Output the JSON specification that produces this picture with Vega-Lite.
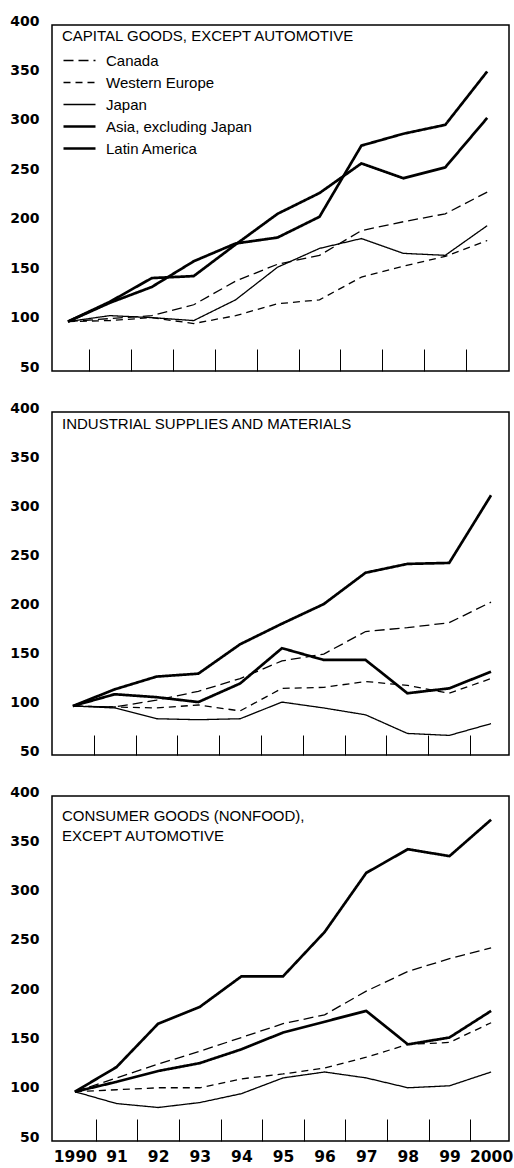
{
  "$schema": "https://vega.github.io/schema/vega-lite/v6.json",
  "background": "white",
  "padding": {"left": 9, "top": 13, "right": 0, "bottom": 0},
  "spacing": 25,
  "config": {
    "view": {"stroke": "black", "strokeWidth": 1.5},
    "axis": {"grid": false, "domain": false, "labelFont": "DejaVu Sans", "labelFontWeight": "bold", "labelColor": "black", "tickColor": "black", "tickWidth": 1},
    "title": {"font": "Liberation Sans", "fontSize": 15, "fontWeight": "normal", "color": "black", "anchor": "start", "frame": "group", "baseline": "top", "offset": -30, "dx": 10, "lineHeight": 20},
    "legend": {"title": null, "orient": "none", "legendX": 20, "legendY": 28, "symbolType": "stroke", "symbolSize": 1024, "symbolStrokeColor": "black", "labelFont": "Liberation Sans", "labelFontSize": 15, "labelColor": "black", "labelOffset": 19, "rowPadding": 6}
  },
  "datasets": {
    "capital": [
      {"series": "Canada", "year": 1990, "value": 100}, {"series": "Canada", "year": 1991, "value": 103}, {"series": "Canada", "year": 1992, "value": 106}, {"series": "Canada", "year": 1993, "value": 117}, {"series": "Canada", "year": 1994, "value": 141}, {"series": "Canada", "year": 1995, "value": 158}, {"series": "Canada", "year": 1996, "value": 167}, {"series": "Canada", "year": 1997, "value": 192}, {"series": "Canada", "year": 1998, "value": 201}, {"series": "Canada", "year": 1999, "value": 209}, {"series": "Canada", "year": 2000, "value": 231},
      {"series": "Western Europe", "year": 1990, "value": 100}, {"series": "Western Europe", "year": 1991, "value": 101}, {"series": "Western Europe", "year": 1992, "value": 104}, {"series": "Western Europe", "year": 1993, "value": 98}, {"series": "Western Europe", "year": 1994, "value": 106}, {"series": "Western Europe", "year": 1995, "value": 118}, {"series": "Western Europe", "year": 1996, "value": 122}, {"series": "Western Europe", "year": 1997, "value": 145}, {"series": "Western Europe", "year": 1998, "value": 156}, {"series": "Western Europe", "year": 1999, "value": 166}, {"series": "Western Europe", "year": 2000, "value": 182},
      {"series": "Japan", "year": 1990, "value": 100}, {"series": "Japan", "year": 1991, "value": 106}, {"series": "Japan", "year": 1992, "value": 104}, {"series": "Japan", "year": 1993, "value": 101}, {"series": "Japan", "year": 1994, "value": 122}, {"series": "Japan", "year": 1995, "value": 155}, {"series": "Japan", "year": 1996, "value": 174}, {"series": "Japan", "year": 1997, "value": 184}, {"series": "Japan", "year": 1998, "value": 169}, {"series": "Japan", "year": 1999, "value": 167}, {"series": "Japan", "year": 2000, "value": 197},
      {"series": "Asia, excluding Japan", "year": 1990, "value": 100}, {"series": "Asia, excluding Japan", "year": 1991, "value": 120}, {"series": "Asia, excluding Japan", "year": 1992, "value": 144}, {"series": "Asia, excluding Japan", "year": 1993, "value": 146}, {"series": "Asia, excluding Japan", "year": 1994, "value": 178}, {"series": "Asia, excluding Japan", "year": 1995, "value": 209}, {"series": "Asia, excluding Japan", "year": 1996, "value": 230}, {"series": "Asia, excluding Japan", "year": 1997, "value": 260}, {"series": "Asia, excluding Japan", "year": 1998, "value": 245}, {"series": "Asia, excluding Japan", "year": 1999, "value": 256}, {"series": "Asia, excluding Japan", "year": 2000, "value": 306},
      {"series": "Latin America", "year": 1990, "value": 100}, {"series": "Latin America", "year": 1991, "value": 119}, {"series": "Latin America", "year": 1992, "value": 135}, {"series": "Latin America", "year": 1993, "value": 161}, {"series": "Latin America", "year": 1994, "value": 179}, {"series": "Latin America", "year": 1995, "value": 185}, {"series": "Latin America", "year": 1996, "value": 206}, {"series": "Latin America", "year": 1997, "value": 278}, {"series": "Latin America", "year": 1998, "value": 290}, {"series": "Latin America", "year": 1999, "value": 299}, {"series": "Latin America", "year": 2000, "value": 353}
    ],
    "industrial": [
      {"series": "Canada", "year": 1990, "value": 100}, {"series": "Canada", "year": 1991, "value": 99}, {"series": "Canada", "year": 1992, "value": 106}, {"series": "Canada", "year": 1993, "value": 115}, {"series": "Canada", "year": 1994, "value": 128}, {"series": "Canada", "year": 1995, "value": 146}, {"series": "Canada", "year": 1996, "value": 153}, {"series": "Canada", "year": 1997, "value": 176}, {"series": "Canada", "year": 1998, "value": 180}, {"series": "Canada", "year": 1999, "value": 185}, {"series": "Canada", "year": 2000, "value": 206},
      {"series": "Western Europe", "year": 1990, "value": 100}, {"series": "Western Europe", "year": 1991, "value": 99}, {"series": "Western Europe", "year": 1992, "value": 98}, {"series": "Western Europe", "year": 1993, "value": 101}, {"series": "Western Europe", "year": 1994, "value": 95}, {"series": "Western Europe", "year": 1995, "value": 118}, {"series": "Western Europe", "year": 1996, "value": 119}, {"series": "Western Europe", "year": 1997, "value": 125}, {"series": "Western Europe", "year": 1998, "value": 121}, {"series": "Western Europe", "year": 1999, "value": 113}, {"series": "Western Europe", "year": 2000, "value": 128},
      {"series": "Japan", "year": 1990, "value": 100}, {"series": "Japan", "year": 1991, "value": 98}, {"series": "Japan", "year": 1992, "value": 87}, {"series": "Japan", "year": 1993, "value": 86}, {"series": "Japan", "year": 1994, "value": 87}, {"series": "Japan", "year": 1995, "value": 104}, {"series": "Japan", "year": 1996, "value": 98}, {"series": "Japan", "year": 1997, "value": 91}, {"series": "Japan", "year": 1998, "value": 72}, {"series": "Japan", "year": 1999, "value": 70}, {"series": "Japan", "year": 2000, "value": 82},
      {"series": "Asia, excluding Japan", "year": 1990, "value": 100}, {"series": "Asia, excluding Japan", "year": 1991, "value": 112}, {"series": "Asia, excluding Japan", "year": 1992, "value": 109}, {"series": "Asia, excluding Japan", "year": 1993, "value": 104}, {"series": "Asia, excluding Japan", "year": 1994, "value": 123}, {"series": "Asia, excluding Japan", "year": 1995, "value": 159}, {"series": "Asia, excluding Japan", "year": 1996, "value": 147}, {"series": "Asia, excluding Japan", "year": 1997, "value": 147}, {"series": "Asia, excluding Japan", "year": 1998, "value": 113}, {"series": "Asia, excluding Japan", "year": 1999, "value": 118}, {"series": "Asia, excluding Japan", "year": 2000, "value": 135},
      {"series": "Latin America", "year": 1990, "value": 100}, {"series": "Latin America", "year": 1991, "value": 117}, {"series": "Latin America", "year": 1992, "value": 130}, {"series": "Latin America", "year": 1993, "value": 133}, {"series": "Latin America", "year": 1994, "value": 163}, {"series": "Latin America", "year": 1995, "value": 184}, {"series": "Latin America", "year": 1996, "value": 204}, {"series": "Latin America", "year": 1997, "value": 236}, {"series": "Latin America", "year": 1998, "value": 245}, {"series": "Latin America", "year": 1999, "value": 246}, {"series": "Latin America", "year": 2000, "value": 315}
    ],
    "consumer": [
      {"series": "Canada", "year": 1990, "value": 100}, {"series": "Canada", "year": 1991, "value": 114}, {"series": "Canada", "year": 1992, "value": 128}, {"series": "Canada", "year": 1993, "value": 141}, {"series": "Canada", "year": 1994, "value": 155}, {"series": "Canada", "year": 1995, "value": 169}, {"series": "Canada", "year": 1996, "value": 178}, {"series": "Canada", "year": 1997, "value": 202}, {"series": "Canada", "year": 1998, "value": 222}, {"series": "Canada", "year": 1999, "value": 235}, {"series": "Canada", "year": 2000, "value": 246},
      {"series": "Western Europe", "year": 1990, "value": 100}, {"series": "Western Europe", "year": 1991, "value": 102}, {"series": "Western Europe", "year": 1992, "value": 104}, {"series": "Western Europe", "year": 1993, "value": 104}, {"series": "Western Europe", "year": 1994, "value": 113}, {"series": "Western Europe", "year": 1995, "value": 118}, {"series": "Western Europe", "year": 1996, "value": 124}, {"series": "Western Europe", "year": 1997, "value": 135}, {"series": "Western Europe", "year": 1998, "value": 148}, {"series": "Western Europe", "year": 1999, "value": 150}, {"series": "Western Europe", "year": 2000, "value": 170},
      {"series": "Japan", "year": 1990, "value": 100}, {"series": "Japan", "year": 1991, "value": 88}, {"series": "Japan", "year": 1992, "value": 84}, {"series": "Japan", "year": 1993, "value": 89}, {"series": "Japan", "year": 1994, "value": 98}, {"series": "Japan", "year": 1995, "value": 114}, {"series": "Japan", "year": 1996, "value": 120}, {"series": "Japan", "year": 1997, "value": 114}, {"series": "Japan", "year": 1998, "value": 104}, {"series": "Japan", "year": 1999, "value": 106}, {"series": "Japan", "year": 2000, "value": 120},
      {"series": "Asia, excluding Japan", "year": 1990, "value": 100}, {"series": "Asia, excluding Japan", "year": 1991, "value": 110}, {"series": "Asia, excluding Japan", "year": 1992, "value": 121}, {"series": "Asia, excluding Japan", "year": 1993, "value": 129}, {"series": "Asia, excluding Japan", "year": 1994, "value": 143}, {"series": "Asia, excluding Japan", "year": 1995, "value": 160}, {"series": "Asia, excluding Japan", "year": 1996, "value": 171}, {"series": "Asia, excluding Japan", "year": 1997, "value": 182}, {"series": "Asia, excluding Japan", "year": 1998, "value": 148}, {"series": "Asia, excluding Japan", "year": 1999, "value": 155}, {"series": "Asia, excluding Japan", "year": 2000, "value": 182},
      {"series": "Latin America", "year": 1990, "value": 100}, {"series": "Latin America", "year": 1991, "value": 125}, {"series": "Latin America", "year": 1992, "value": 169}, {"series": "Latin America", "year": 1993, "value": 186}, {"series": "Latin America", "year": 1994, "value": 217}, {"series": "Latin America", "year": 1995, "value": 217}, {"series": "Latin America", "year": 1996, "value": 262}, {"series": "Latin America", "year": 1997, "value": 322}, {"series": "Latin America", "year": 1998, "value": 346}, {"series": "Latin America", "year": 1999, "value": 339}, {"series": "Latin America", "year": 2000, "value": 376}
    ]
  },
  "resolve": {"legend": {"strokeDash": "independent"}},
  "vconcat": [
    {
      "width": 457, "height": 346,
      "data": {"name": "capital"},
      "title": {"text": "CAPITAL GOODS, EXCEPT AUTOMOTIVE", "offset": -30},
      "mark": {"type": "line", "color": "black"},
      "encoding": {
        "x": {"field": "year", "type": "quantitative", "scale": {"domain": [1989.62, 2000.52], "nice": false, "zero": false},
          "axis": {"title": null, "values": [1990.5, 1991.5, 1992.5, 1993.5, 1994.5, 1995.5, 1996.5, 1997.5, 1998.5, 1999.5], "labels": false, "tickSize": -22}},
        "y": {"field": "value", "type": "quantitative", "scale": {"domain": [50, 400], "nice": false, "zero": false},
          "axis": {"title": null, "values": [50, 100, 150, 200, 250, 300, 350, 400], "ticks": false, "labelPadding": 13, "labelFontSize": 14, "labelOffset": -4, "labelFlush": false}},
        "strokeDash": {"field": "series", "type": "nominal",
          "scale": {"domain": ["Canada", "Western Europe", "Japan", "Asia, excluding Japan", "Latin America"], "range": [[10, 5], [7, 5], [1, 0], [1, 0], [1, 0]]},
          "legend": {"encode": {"symbols": {"update": {"strokeWidth": {"signal": "indexof(['Asia, excluding Japan', 'Latin America'], datum.value) >= 0 ? 2.7 : 1.3"}}}}}},
        "strokeWidth": {"condition": {"test": "datum.series === 'Asia, excluding Japan' || datum.series === 'Latin America'", "value": 2.7}, "value": 1.3}
      }
    },
    {
      "width": 457, "height": 343,
      "data": {"name": "industrial"},
      "title": {"text": "INDUSTRIAL SUPPLIES AND MATERIALS", "offset": -31},
      "mark": {"type": "line", "color": "black"},
      "encoding": {
        "x": {"field": "year", "type": "quantitative", "scale": {"domain": [1989.5, 2000.43], "nice": false, "zero": false},
          "axis": {"title": null, "values": [1990.5, 1991.5, 1992.5, 1993.5, 1994.5, 1995.5, 1996.5, 1997.5, 1998.5, 1999.5], "labels": false, "tickSize": -20}},
        "y": {"field": "value", "type": "quantitative", "scale": {"domain": [50, 400], "nice": false, "zero": false},
          "axis": {"title": null, "values": [50, 100, 150, 200, 250, 300, 350, 400], "ticks": false, "labelPadding": 13, "labelFontSize": 14, "labelOffset": -4, "labelFlush": false}},
        "strokeDash": {"field": "series", "type": "nominal",
          "scale": {"domain": ["Canada", "Western Europe", "Japan", "Asia, excluding Japan", "Latin America"], "range": [[10, 5], [7, 5], [1, 0], [1, 0], [1, 0]]},
          "legend": null},
        "strokeWidth": {"condition": {"test": "datum.series === 'Asia, excluding Japan' || datum.series === 'Latin America'", "value": 2.7}, "value": 1.3}
      }
    },
    {
      "width": 457, "height": 345,
      "data": {"name": "consumer"},
      "title": {"text": ["CONSUMER GOODS (NONFOOD),", "EXCEPT AUTOMOTIVE"], "offset": -59},
      "mark": {"type": "line", "color": "black"},
      "encoding": {
        "x": {"field": "year", "type": "quantitative", "scale": {"domain": [1989.45, 2000.43], "nice": false, "zero": false},
          "axis": {"title": null, "values": [1990, 1990.5, 1991, 1991.5, 1992, 1992.5, 1993, 1993.5, 1994, 1994.5, 1995, 1995.5, 1996, 1996.5, 1997, 1997.5, 1998, 1998.5, 1999, 1999.5, 2000],
            "tickSize": -22, "tickOpacity": {"condition": {"test": "datum.value % 1 !== 0", "value": 1}, "value": 0},
            "labelExpr": "datum.value % 1 !== 0 ? '' : (datum.value === 1990 || datum.value === 2000 ? toString(datum.value) : substring(toString(datum.value), 2))",
            "labelFontSize": 15.5, "labelPadding": 30, "labelOverlap": false, "labelFlush": false}},
        "y": {"field": "value", "type": "quantitative", "scale": {"domain": [50, 400], "nice": false, "zero": false},
          "axis": {"title": null, "values": [50, 100, 150, 200, 250, 300, 350, 400], "ticks": false, "labelPadding": 13, "labelFontSize": 14, "labelOffset": -4, "labelFlush": false}},
        "strokeDash": {"field": "series", "type": "nominal",
          "scale": {"domain": ["Canada", "Western Europe", "Japan", "Asia, excluding Japan", "Latin America"], "range": [[10, 5], [7, 5], [1, 0], [1, 0], [1, 0]]},
          "legend": null},
        "strokeWidth": {"condition": {"test": "datum.series === 'Asia, excluding Japan' || datum.series === 'Latin America'", "value": 2.7}, "value": 1.3}
      }
    }
  ]
}
